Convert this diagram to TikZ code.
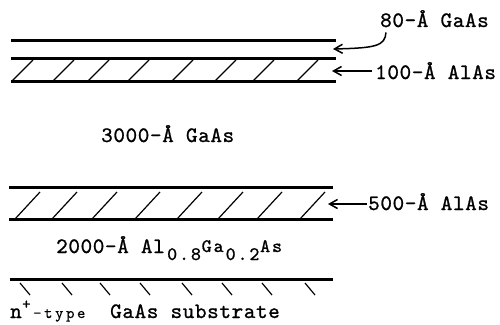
\documentclass[tikz,border=0pt]{standalone}
\usepackage{fontspec}
\newfontfamily\twmain{lmmono10-regular}[Extension=.otf, LetterSpace=3, FakeBold=1]
\newfontfamily\twsub{lmmono10-regular}[Extension=.otf, LetterSpace=10, FakeBold=1]
\newfontfamily\twsmall{lmmono10-regular}[Extension=.otf, LetterSpace=16, FakeBold=0.3]
\newcommand\bigtw{\fontsize{22}{22}\twmain}
\newcommand\subtw{\fontsize{19}{19}\twsub}
\newcommand\smalltw{\fontsize{16}{16}\twsmall}
\usetikzlibrary{arrows.meta}
\begin{document}
\begin{tikzpicture}[x=1pt,y=-1pt,
  layer/.style={line width=3pt},
  hatch/.style={line width=1.2pt},
  lbl/.style={inner sep=0pt, anchor=base west, font=\bigtw},
  pointer/.style={line width=1.5pt, -{Straight Barb[length=8pt,width=9pt]}}]
\useasboundingbox (0,0) rectangle (500,324);
% upper AlAs barrier and GaAs well
\draw[layer] (11,40) -- (336,40);
\draw[layer] (11,58) -- (336,58);
\draw[layer] (11,81) -- (336,81);
\foreach \b in {12,53,88,128,172,215,253,297}
  \draw[hatch] (\b,81) -- ++(21,-21);
% lower AlAs layer
\draw[layer] (9,187) -- (333,187);
\draw[layer] (9,219) -- (333,219);
\foreach \b in {15,52,92,135,177,218,257,300}
  \draw[hatch] (\b,219) -- ++(25,-27);
% substrate
\draw[layer] (10,279) -- (333,279);
\foreach \t in {20,62,100,140,182,222,262,305}
  \draw[hatch] (\t,283) -- ++(10,12);
% labels
\node[lbl] (l80) at (380,27) {80-Å GaAs};
\node[lbl] (l100) at (375,79) {100-Å AlAs};
\node[lbl] (l3000) at (101,142) {3000-Å GaAs};
\node[lbl] (l500) at (368,210) {500-Å AlAs};
\node[lbl] (l2000) at (56,253) {\makebox[111pt][l]{2000-Å Al}\raisebox{-7pt}{\makebox[34.5pt][l]{\subtw 0.8}}\raisebox{1pt}{\makebox[24pt][l]{\subtw Ga}}\raisebox{-7pt}{\makebox[34.5pt][l]{\subtw 0.2}}\raisebox{1pt}{\makebox[24pt][l]{\subtw As}}};
\node[lbl] (lsub) at (10,318) {\makebox[12pt][l]{n}\raisebox{9pt}{\makebox[11pt][l]{\fontsize{16}{16}\twmain +}}\makebox[77pt][l]{\smalltw -type}GaAs substrate};
% pointers
\coordinate (tip80) at (333,49);
\coordinate (tip100) at (332,71);
\coordinate (tip500) at (328,204);
\draw[pointer] ([xshift=6pt,yshift=-5pt]l80.south west) .. controls (385,46) and (376,48) .. (tip80);
\draw[pointer] ([xshift=-3pt]l100.west |- tip100) -- (tip100);
\draw[pointer] ([xshift=-1pt]l500.west |- tip500) -- (tip500);
\end{tikzpicture}
\end{document}
